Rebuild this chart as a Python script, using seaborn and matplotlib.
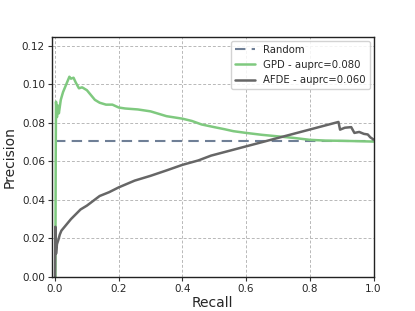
import numpy as np
import pandas as pd
import matplotlib
matplotlib.use("Agg")
import matplotlib.pyplot as plt
import seaborn as sns

random_recall = [0.0, 1.0]
random_precision = [0.0705, 0.0705]

gpd_recall = [0.0, 0.001, 0.002, 0.003, 0.006, 0.009, 0.012, 0.018, 0.025, 0.035, 0.045,
              0.05, 0.058, 0.065, 0.075, 0.085, 0.1, 0.11, 0.125, 0.14, 0.16, 0.18, 0.2,
              0.22, 0.26, 0.3, 0.35, 0.4, 0.43, 0.46, 0.5, 0.53, 0.56, 0.6, 0.65, 0.7,
              0.75, 0.8, 0.85, 0.9, 0.95, 1.0]
gpd_precision = [0.0, 0.0, 0.06, 0.091, 0.083, 0.089, 0.085, 0.092, 0.096, 0.100, 0.104,
                 0.103, 0.1035, 0.101, 0.098, 0.0985, 0.097, 0.095, 0.092, 0.0905, 0.0895,
                 0.0895, 0.088, 0.0875, 0.087, 0.086, 0.0835, 0.0822, 0.081, 0.0792, 0.0778,
                 0.0768, 0.0757, 0.0748, 0.0738, 0.073, 0.0722, 0.0712, 0.0708, 0.0707,
                 0.0705, 0.0703]

afde_recall = [0.0, 0.001, 0.003, 0.006, 0.01, 0.015, 0.02, 0.03, 0.04, 0.05, 0.065, 0.08,
               0.1, 0.12, 0.14, 0.17, 0.2, 0.25, 0.3, 0.35, 0.4, 0.45, 0.49, 0.89, 0.895,
               0.91, 0.93, 0.94, 0.955, 0.97, 0.982, 0.99, 1.0]
afde_precision = [0.0, 0.026, 0.012, 0.017, 0.019, 0.022, 0.024, 0.026, 0.028, 0.030, 0.0325,
                  0.035, 0.037, 0.0395, 0.042, 0.044, 0.0465, 0.050, 0.0525, 0.0553, 0.0582,
                  0.0605, 0.063, 0.0805, 0.0765, 0.0775, 0.0778, 0.0748, 0.0753, 0.0743,
                  0.074, 0.0725, 0.0714]

labels = ["Random", "GPD - auprc=0.080", "AFDE - auprc=0.060"]
x_ticks = [0.0, 0.2, 0.4, 0.6, 0.8, 1.0]
x_tick_labels = ["0.0", "0.2", "0.4", "0.6", "0.8", "1.0"]
y_ticks = [0.0, 0.02, 0.04, 0.06, 0.08, 0.10, 0.12]
y_tick_labels = ["0.00", "0.02", "0.04", "0.06", "0.08", "0.10", "0.12"]

sns.set_style("ticks")
plt.rcParams['font.family'] = ['DejaVu Sans']

fig, ax = plt.subplots(figsize=(4.15, 3.11), dpi=100)

df_r = pd.DataFrame({"Recall": random_recall, "Precision": random_precision})
df_g = pd.DataFrame({"Recall": gpd_recall, "Precision": gpd_precision})
df_a = pd.DataFrame({"Recall": afde_recall, "Precision": afde_precision})

sns.lineplot(data=df_r, x="Recall", y="Precision", ax=ax, color="#6f7f96",
             linestyle=(0, (5, 3)), linewidth=1.5, label=labels[0],
             sort=False, estimator=None)
sns.lineplot(data=df_g, x="Recall", y="Precision", ax=ax, color="#7fc97f",
             linewidth=1.8, label=labels[1], sort=False, estimator=None)
sns.lineplot(data=df_a, x="Recall", y="Precision", ax=ax, color="#666666",
             linewidth=1.8, label=labels[2], sort=False, estimator=None)

ax.set_xlim(-0.01, 1.0)
ax.set_ylim(0, 0.1245)
ax.set_xticks(x_ticks)
ax.set_yticks(y_ticks)
ax.set_xticklabels(x_tick_labels)
ax.set_yticklabels(y_tick_labels)
ax.tick_params(labelsize=7.5, length=3, width=0.8, pad=2, color="#333333")
ax.grid(True, linestyle=(0, (3, 2)), color="#b8b8b8", linewidth=0.7)
ax.set_axisbelow(True)
ax.set_xlabel("Recall", fontsize=10, labelpad=1.5)
ax.set_ylabel("Precision", fontsize=10, labelpad=4)
for s in ax.spines.values():
    s.set_color("#222222")
    s.set_linewidth(1.0)
ax.legend(loc="upper right", fontsize=7.3, frameon=True, framealpha=0.85,
          edgecolor="#cccccc", fancybox=True, borderaxespad=0.35)

fig.subplots_adjust(left=0.125, right=0.9, bottom=0.11, top=0.88)
fig.savefig("out.png", dpi=100)
